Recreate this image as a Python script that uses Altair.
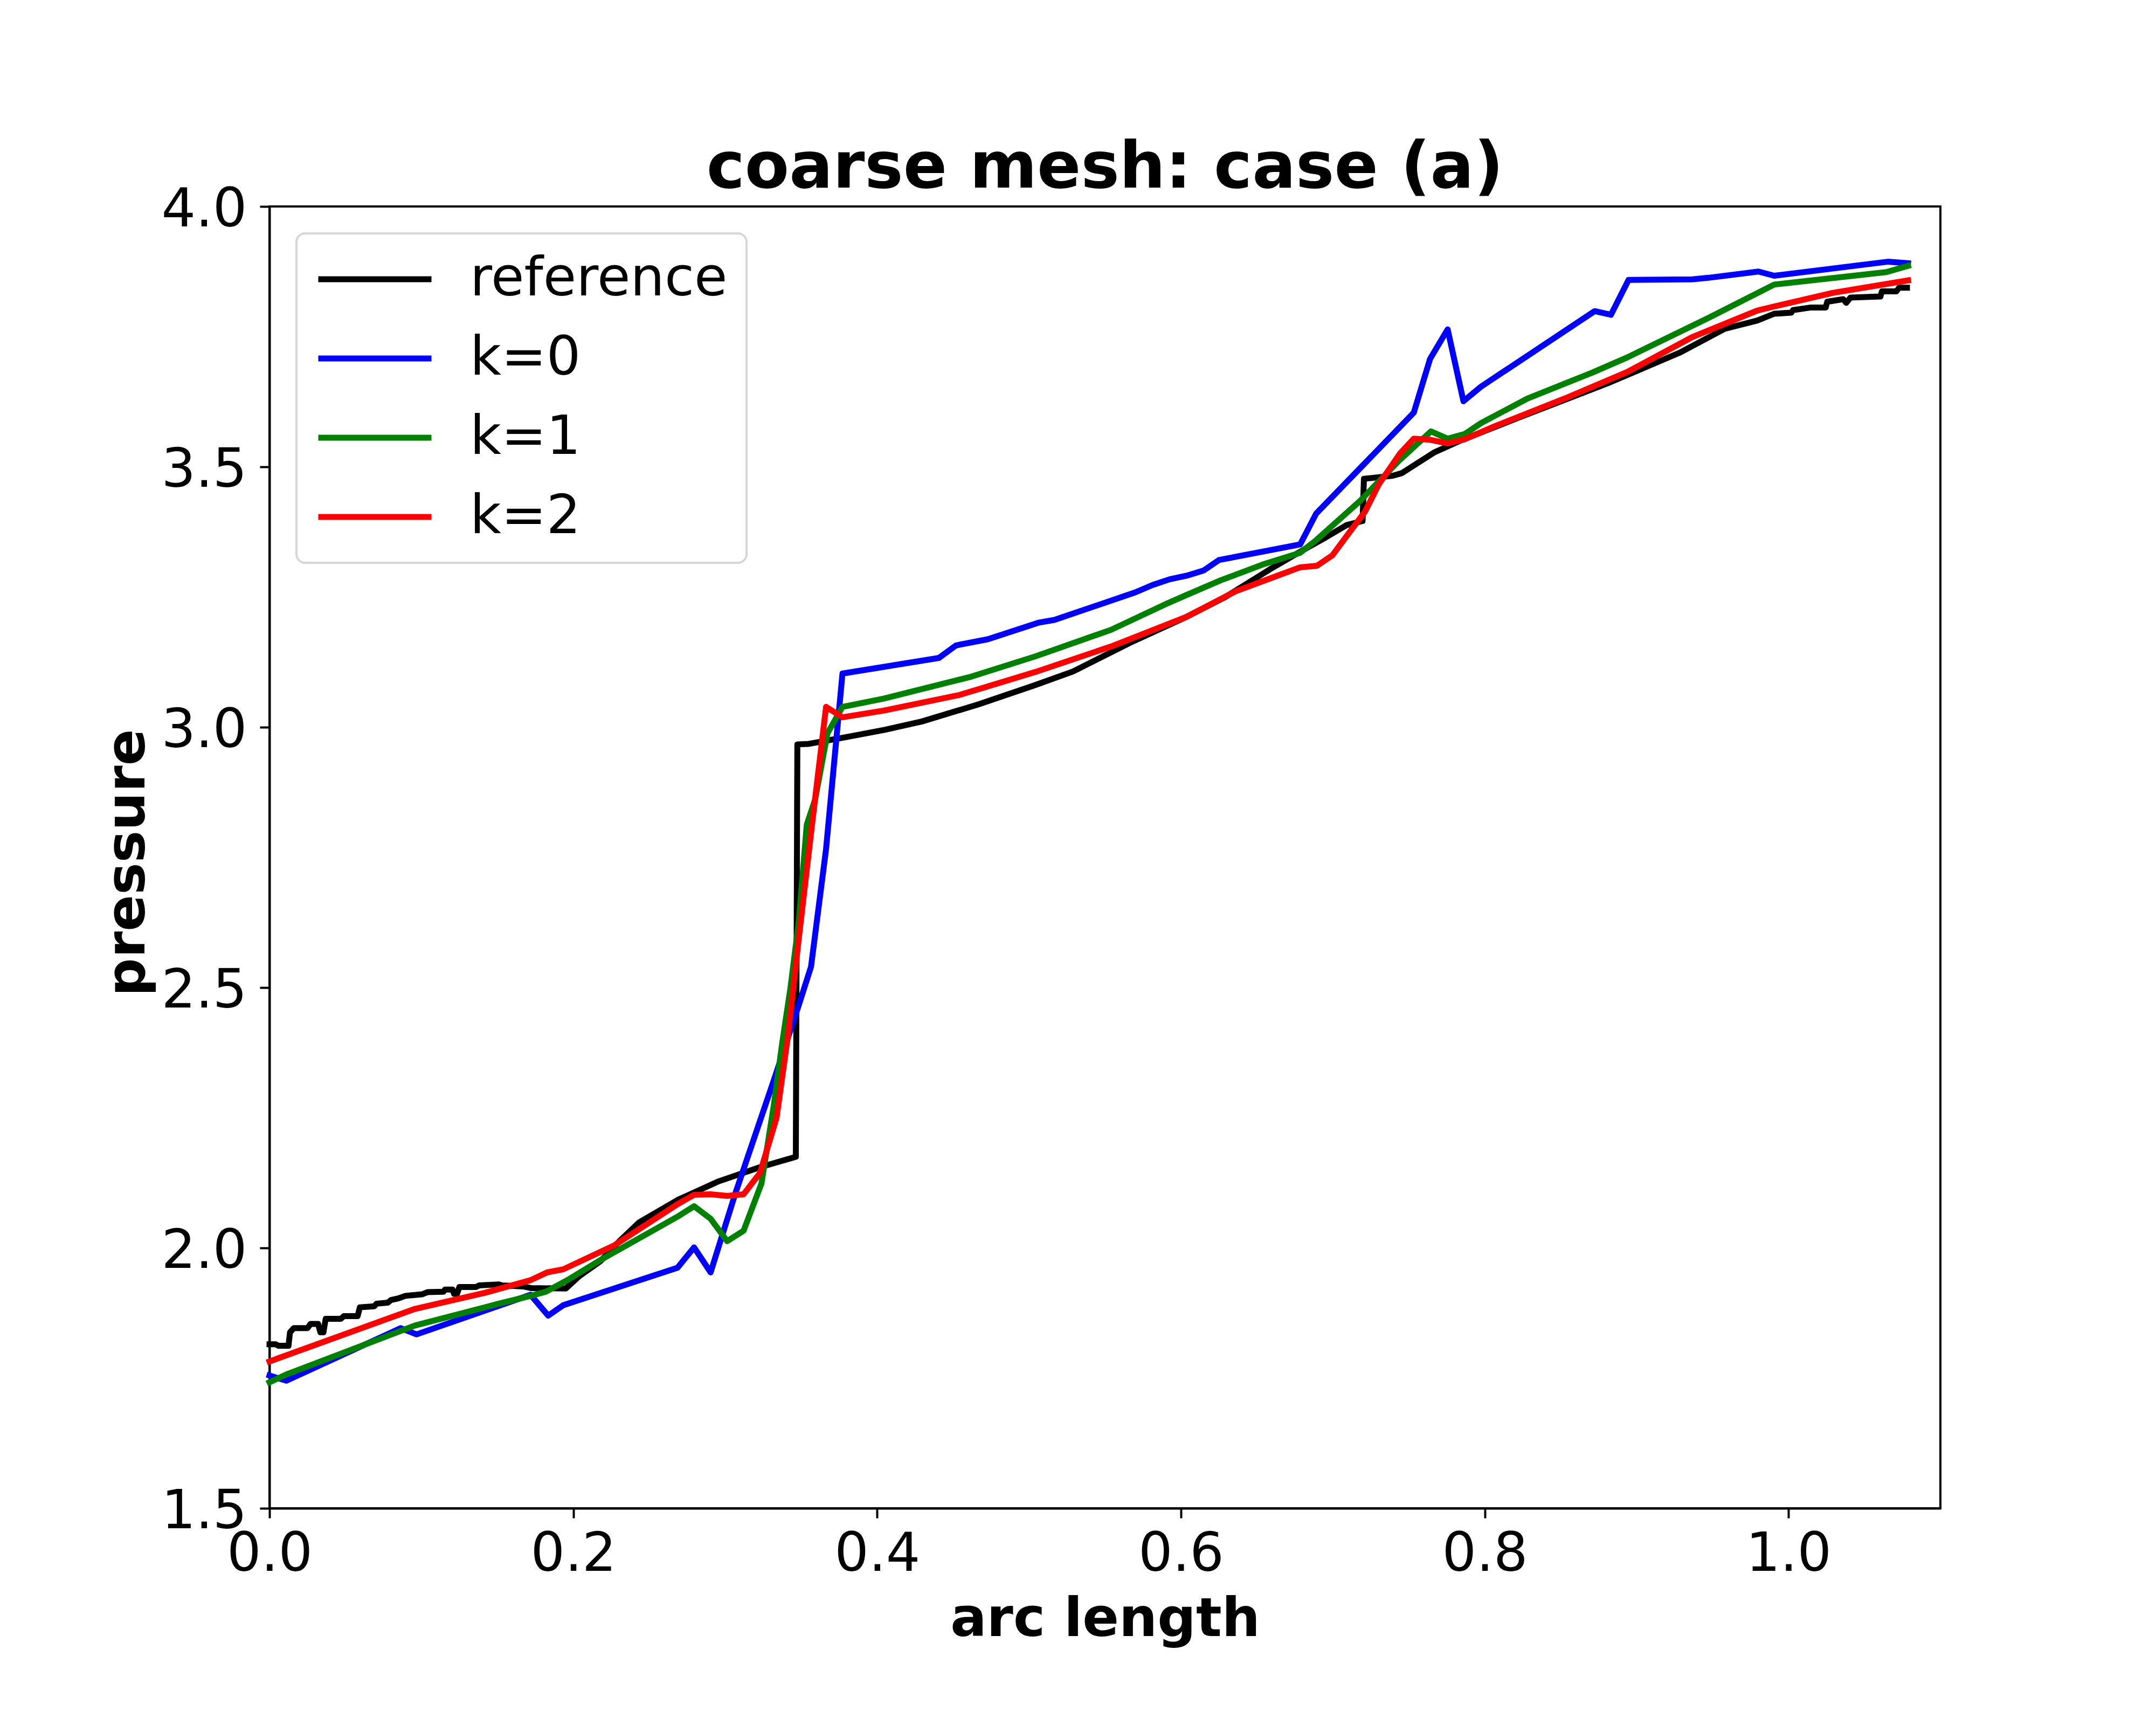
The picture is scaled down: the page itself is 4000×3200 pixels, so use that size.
import altair as alt
import pandas as pd

SERIES = ["reference", "k=0", "k=1", "k=2"]
COLORS = ["#000000", "#0000ff", "#008000", "#ff0000"]
X_TICKS = [0.0, 0.2, 0.4, 0.6, 0.8, 1.0]
Y_TICKS = [1.5, 2.0, 2.5, 3.0, 3.5, 4.0]

REF_X = [0.000, 0.004, 0.006, 0.0125, 0.0135, 0.016, 0.025, 0.027, 0.032, 0.0335,
         0.0355, 0.037, 0.047, 0.049, 0.058, 0.0595, 0.069, 0.0705, 0.078, 0.080,
         0.0848, 0.0895, 0.1006, 0.104, 0.1145, 0.1155, 0.1205, 0.1215, 0.1235, 0.125,
         0.136, 0.138, 0.151, 0.153, 0.167, 0.172, 0.195, 0.2036, 0.218, 0.230,
         0.2433, 0.2686, 0.2958, 0.3229, 0.3465, 0.3475, 0.355, 0.3797, 0.405, 0.4295,
         0.4669, 0.5042, 0.529, 0.5664, 0.6038, 0.6287, 0.6585, 0.6785, 0.6951, 0.709,
         0.7196, 0.7205, 0.7395, 0.7455, 0.767, 0.7853, 0.822, 0.8831, 0.929, 0.958,
         0.9794, 0.9906, 1.0018, 1.003, 1.0148, 1.0245, 1.0255, 1.036, 1.038, 1.0408,
         1.0605, 1.0615, 1.071, 1.0728, 1.078]
REF_Y = [1.815, 1.815, 1.812, 1.812, 1.838, 1.846, 1.846, 1.854, 1.854, 1.838,
         1.838, 1.864, 1.864, 1.869, 1.869, 1.886, 1.888, 1.893, 1.895, 1.900,
         1.903, 1.908, 1.911, 1.915, 1.916, 1.920, 1.920, 1.912, 1.912, 1.925,
         1.925, 1.928, 1.930, 1.928, 1.926, 1.923, 1.922, 1.945, 1.975, 2.012,
         2.049, 2.092, 2.128, 2.155, 2.175, 2.967, 2.968, 2.981, 2.995, 3.011,
         3.044, 3.081, 3.107, 3.162, 3.212, 3.249, 3.303, 3.337, 3.364, 3.388,
         3.396, 3.477, 3.483, 3.488, 3.528, 3.552, 3.594, 3.663, 3.720, 3.765,
         3.781, 3.794, 3.796, 3.801, 3.806, 3.806, 3.817, 3.822, 3.815, 3.825,
         3.827, 3.837, 3.837, 3.844, 3.844]

K0_X = [0.000, 0.0111, 0.0864, 0.0968, 0.1718, 0.1835, 0.1934, 0.2686, 0.2795, 0.2904,
        0.3066, 0.332, 0.3483, 0.3565, 0.3664, 0.3772, 0.4407, 0.4519, 0.473, 0.5067,
        0.5167, 0.5701, 0.5813, 0.5926, 0.6038, 0.615, 0.625, 0.6785, 0.689, 0.7533,
        0.764, 0.7756, 0.786, 0.7976, 0.8724, 0.8831, 0.8947, 0.9366, 0.9473, 0.9802,
        0.9906, 1.0657, 1.0787]
K0_Y = [1.755, 1.745, 1.846, 1.834, 1.910, 1.870, 1.890, 1.962, 2.001, 1.953,
        2.104, 2.322, 2.465, 2.540, 2.766, 3.103, 3.133, 3.157, 3.169, 3.201,
        3.206, 3.259, 3.273, 3.284, 3.291, 3.301, 3.321, 3.351, 3.410, 3.604,
        3.707, 3.764, 3.626, 3.654, 3.799, 3.792, 3.859, 3.860, 3.863, 3.875,
        3.867, 3.894, 3.891]

K1_X = [0.000, 0.0111, 0.0958, 0.142, 0.151, 0.172, 0.182, 0.196, 0.218, 0.2686,
        0.2795, 0.2904, 0.3013, 0.3121, 0.3239, 0.332, 0.3375, 0.3428, 0.3483, 0.3537,
        0.3592, 0.3673, 0.3772, 0.4045, 0.4619, 0.5042, 0.554, 0.5913, 0.6038, 0.6261,
        0.6535, 0.6785, 0.689, 0.7181, 0.7426, 0.7646, 0.7756, 0.7869, 0.7976, 0.8281,
        0.8709, 0.8938, 0.9473, 0.9906, 1.0645, 1.0787]
K1_Y = [1.742, 1.757, 1.851, 1.886, 1.893, 1.908, 1.916, 1.938, 1.977, 2.060,
        2.080, 2.056, 2.013, 2.033, 2.124, 2.274, 2.393, 2.496, 2.623, 2.813,
        2.861, 2.988, 3.039, 3.055, 3.097, 3.136, 3.187, 3.238, 3.254, 3.282,
        3.312, 3.335, 3.359, 3.435, 3.509, 3.568, 3.554, 3.563, 3.584, 3.631,
        3.681, 3.710, 3.786, 3.850, 3.874, 3.886]

K2_X = [0.000, 0.0958, 0.142, 0.1718, 0.1827, 0.1934, 0.227, 0.2686, 0.2795, 0.2904,
        0.3013, 0.3121, 0.3229, 0.3338, 0.341, 0.3483, 0.3565, 0.3664, 0.3772, 0.4045,
        0.4544, 0.5042, 0.554, 0.6038, 0.636, 0.6535, 0.6785, 0.6896, 0.6997, 0.7104,
        0.7212, 0.7304, 0.7441, 0.7533, 0.764, 0.7756, 0.7869, 0.8067, 0.8525, 0.8938,
        0.9366, 0.9794, 0.9906, 1.029, 1.0787]
K2_Y = [1.782, 1.883, 1.914, 1.938, 1.953, 1.959, 2.005, 2.084, 2.102, 2.103,
        2.100, 2.103, 2.144, 2.250, 2.401, 2.591, 2.797, 3.039, 3.019, 3.032,
        3.062, 3.106, 3.155, 3.212, 3.261, 3.280, 3.307, 3.310, 3.330, 3.372,
        3.414, 3.467, 3.525, 3.554, 3.552, 3.545, 3.553, 3.578, 3.631, 3.682,
        3.749, 3.800, 3.808, 3.834, 3.858]

frames = []
for name, xs, ys in zip(SERIES, [REF_X, K0_X, K1_X, K2_X], [REF_Y, K0_Y, K1_Y, K2_Y]):
    frames.append(pd.DataFrame({"x": xs, "y": ys, "series": name, "i": list(range(len(xs)))}))
df = pd.concat(frames, ignore_index=True)

FONT = "DejaVu Sans"

color = alt.Color(
    "series:N",
    scale=alt.Scale(domain=SERIES, range=COLORS),
    title=None,
    legend=alt.Legend(
        orient="none", legendX=50, legendY=50,
        symbolType="stroke", symbolSize=44100, symbolStrokeWidth=11,
        labelFont=FONT, labelFontSize=100, labelColor="black", labelOffset=66,
        labelLimit=2000,
        clipHeight=100, rowPadding=47, padding=35,
        strokeColor="#d6d6d6", cornerRadius=16, fillColor="white",
    ),
)

x = alt.X(
    "x:Q",
    scale=alt.Scale(domain=[0, 1.1], nice=False, zero=False),
    axis=alt.Axis(values=X_TICKS, format=".1f", title="arc length",
                  labelPadding=18, titleY=236, titleBaseline="alphabetic"),
)
y = alt.Y(
    "y:Q",
    scale=alt.Scale(domain=[1.5, 4.0], nice=False, zero=False),
    axis=alt.Axis(values=Y_TICKS, format=".1f", title="pressure",
                  labelPadding=24, labelOffset=6, titleAngle=270, titleX=-233, titleY=1217,
                  titleBaseline="alphabetic", titleAlign="center"),
)

base = alt.Chart(df).mark_line(strokeWidth=11, strokeJoin="round", strokeCap="square")
layers = [
    base.transform_filter(alt.datum.series == s).encode(x=x, y=y, color=color, order="i:Q")
    for s in SERIES
]

chart = alt.layer(*layers).properties(
    width=3100,
    height=2415,
    background="white",
    autosize=alt.AutoSizeParams(type="none"),
    padding={"left": 492, "top": 375, "right": 392, "bottom": 394},
    title=alt.TitleParams(
        "coarse mesh: case (a)", font=FONT, fontSize=120, fontWeight="bold",
        color="black", anchor="middle", frame="group", baseline="alphabetic", offset=-129,
    ),
).configure_axis(
    labelFont=FONT, labelFontSize=100, labelColor="black",
    titleFont=FONT, titleFontSize=100, titleFontWeight="bold", titleColor="black",
    tickColor="black", tickSize=18, tickWidth=4,
    domainColor="black", domainWidth=4, grid=False,
    labelFlush=False, labelOverlap=False, labelBound=False,
).configure_legend(
    strokeWidth=4,
).configure_view(
    stroke="black", strokeWidth=4,
)

chart.save("out.html", embed_options={"renderer": "svg", "actions": False})
